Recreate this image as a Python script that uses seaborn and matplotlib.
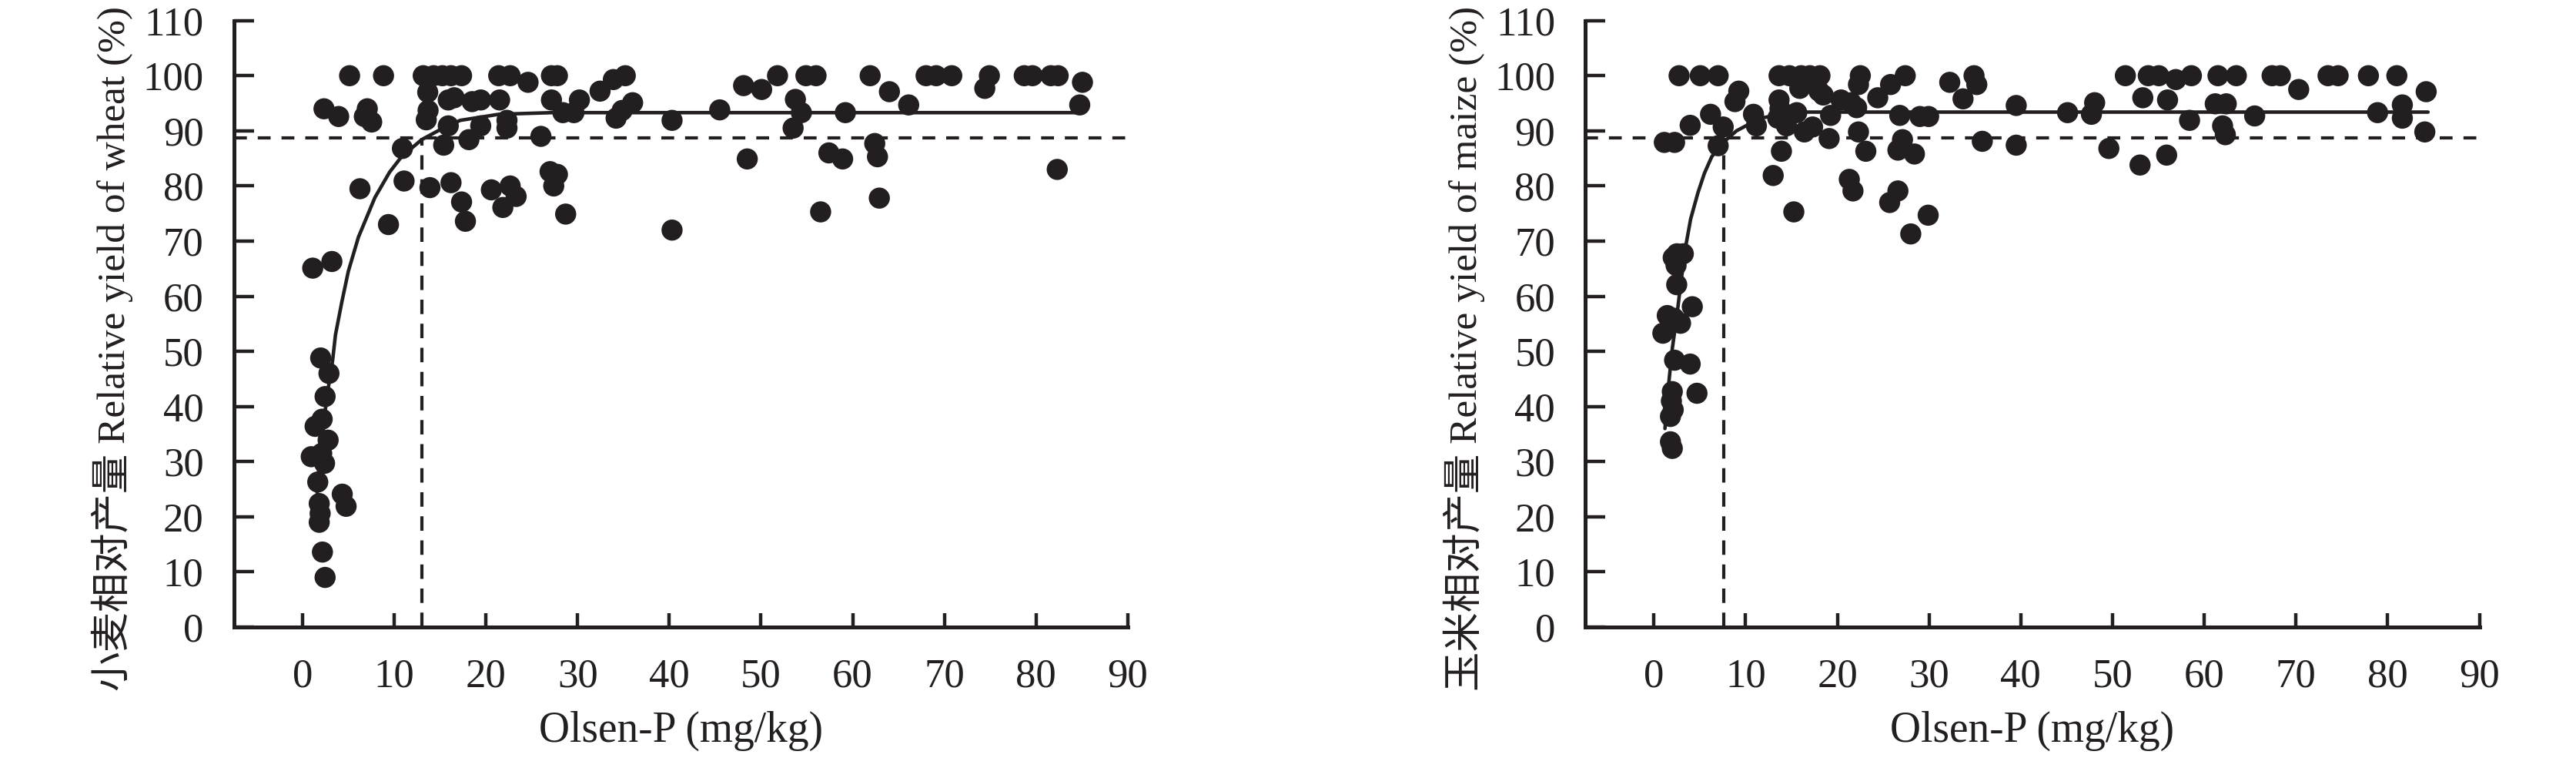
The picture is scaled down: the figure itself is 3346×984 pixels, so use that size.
import matplotlib
matplotlib.use("Agg")
import matplotlib.pyplot as plt
import pandas as pd
import seaborn as sns

# ---------------- data ----------------
wheat_p = [0.96, 1.12, 1.38, 1.67, 1.83, 1.93, 1.83, 1.99, 2.15, 2.18, 2.41, 2.47, 2.47, 2.8, 2.89, 3.21, 4.34, 4.76, 2.1,
           2.35, 3.95, 5.14, 6.27, 6.75, 7.07, 7.55, 8.84, 9.38, 10.9, 11.08,
           13.17, 14.3, 15.26, 16.2, 17.35, 13.66, 13.7, 13.5, 13.9, 15.4, 15.9, 16.55, 15.9, 16.2, 17.35, 17.77, 18.15, 18.5, 19.44, 19.44,
           20.6, 21.4, 21.5, 21.85, 22.3, 22.3, 22.65, 22.65, 23.3, 24.6, 26.0, 27.0, 27.15, 27.15, 27.4, 27.8, 27.8, 28.4, 28.7, 29.6, 30.2,
           32.45, 33.9, 35.2, 34.2, 34.86, 36.0, 40.3, 40.3,
           45.5, 48.1, 48.5, 50.07, 51.8, 53.5, 53.75, 54.4, 54.9, 56.0, 56.5, 57.4, 58.9, 59.2, 61.9, 62.4, 62.7, 62.9, 64.0, 66.1,
           68.0, 69.1, 70.8, 74.4, 74.9, 78.7, 79.6, 81.6, 82.4, 82.3, 84.75, 85.05]
wheat_yield = [30.9, 65.1, 36.4, 26.3, 22.4, 20.6, 19.0, 48.8, 37.7, 13.6, 29.7, 41.8, 9.0, 33.9, 46.0, 66.3, 24.1, 21.9, 31.5,
               94.0, 92.6, 100, 79.5, 92.6, 94.0, 91.6, 100, 73.0, 86.8, 80.9,
               100, 100, 100, 100, 100, 97.0, 93.7, 92.0, 79.7, 87.4, 95.6, 96.0, 90.9, 80.6, 77.1, 73.6, 88.4, 95.3, 95.6, 90.9,
               79.3, 100, 95.6, 76.1, 91.9, 90.5, 100, 80.0, 78.1, 98.8, 89.0, 82.6, 100, 95.6, 80.0, 100, 82.1, 93.3, 74.9, 93.3, 95.6,
               97.2, 99.3, 100, 92.3, 93.7, 95.1, 91.9, 72.0,
               93.8, 98.2, 84.9, 97.5, 100, 90.5, 95.7, 93.3, 100, 100, 75.3, 86.0, 84.9, 93.3, 100, 87.7, 85.3, 77.8, 97.1, 94.7,
               100, 100, 100, 97.7, 100, 100, 100, 100, 100, 83.0, 94.7, 98.8]

maize_p = [0.97, 1.45, 1.8, 1.8, 2.0, 2.0, 2.1, 2.1, 2.25, 2.41, 2.48, 2.51, 2.9, 3.2, 3.95, 4.18, 4.69, 1.9, 2.2,
           1.13, 2.25, 2.74, 5.05, 7.0, 3.95, 6.17, 7.55, 7.0, 9.25, 8.83, 10.85, 11.17,
           13.64, 14.77, 16.05, 17.0, 18.1, 15.9, 18.0, 18.45, 13.64, 13.74, 14.1, 13.5, 14.45, 15.57, 16.4, 17.3, 19.26, 19.1, 20.4, 21.5,
           22.5, 22.3, 22.1, 22.3, 23.1, 24.4, 25.8, 27.4, 26.8, 27.1, 26.6, 28.4, 29.0, 29.95, 13.9, 13.0, 21.3, 21.7, 26.6, 25.7, 29.9, 28.0, 15.25,
           32.25, 34.9, 35.2, 33.7, 35.8, 39.5, 39.5,
           45.1, 48.05, 47.7, 49.6, 51.4, 53.9, 55.05, 56.9, 58.6, 53.3, 56.0, 53.0, 55.9, 58.4, 61.5, 63.5, 61.2, 62.4, 62.0, 62.3,
           65.5, 67.4, 68.3, 70.3, 73.5, 74.6, 77.9, 81.0, 84.2, 78.9, 81.6, 81.6, 84.05]
maize_yield = [53.3, 56.5, 38.2, 33.6, 32.4, 42.7, 39.4, 67.0, 48.4, 65.6, 62.1, 67.7, 55.1, 67.7, 47.7, 58.1, 42.4, 41.0, 56.0,
               87.9, 87.9, 100, 100, 100, 91.0, 93.0, 90.7, 87.3, 97.2, 95.3, 93.0, 90.9,
               100, 100, 100, 100, 100, 97.7, 97.2, 96.5, 95.6, 94.0, 92.8, 92.3, 90.9, 93.3, 89.8, 90.7, 92.8, 88.6, 95.6, 95.1,
               100, 98.4, 94.2, 89.8, 86.3, 96.0, 98.4, 100, 92.8, 88.4, 86.5, 85.8, 92.6, 92.6, 86.3, 81.9, 81.2, 79.1, 79.1, 77.0, 74.7, 71.3, 75.3,
               98.8, 100, 98.4, 95.8, 88.1, 94.6, 87.4,
               93.3, 95.1, 93.0, 86.8, 100, 100, 100, 99.3, 100, 96.0, 95.6, 83.8, 85.6, 91.9, 100, 100, 94.9, 94.9, 90.9, 89.3,
               92.7, 100, 100, 97.5, 100, 100, 100, 100, 97.1, 93.3, 94.7, 92.3, 89.8]

# fitted response curves
wheat_curve_p = [1.6, 1.9, 2.4, 2.9, 3.3, 3.6, 4.3, 5.0, 6.1, 7.9, 9.5, 10.8, 13.0, 15.0, 17.2, 21.4, 27.2, 84.6]
wheat_curve_yield = [24.4, 31.8, 38.3, 44.3, 48.5, 53.0, 59.0, 64.5, 70.7, 77.9, 82.5, 85.3, 88.4, 90.2, 91.9, 93.0, 93.3, 93.3]
maize_curve_p = [1.2, 1.6, 2.0, 2.5, 2.9, 3.4, 4.0, 4.8, 5.5, 6.3, 7.4, 9.0, 11.6, 14.0, 16.7, 84.4]
maize_curve_yield = [36.0, 44.0, 50.5, 56.5, 62.0, 68.5, 74.0, 78.8, 82.3, 85.3, 87.7, 90.0, 92.3, 93.0, 93.4, 93.4]

threshold_yield = 88.7
wheat_critical_p = 13.0
maize_critical_p = 7.6

x_ticks = [0, 10, 20, 30, 40, 50, 60, 70, 80, 90]
y_ticks = [0, 10, 20, 30, 40, 50, 60, 70, 80, 90, 100, 110]
x_label = "Olsen-P (mg/kg)"
wheat_label = "小麦相对产量 Relative yield of wheat (%)"
maize_label = "玉米相对产量 Relative yield of maize (%)"

# ---------------- style ----------------
sns.set_theme(style="ticks")
plt.rcParams["font.family"] = ["Liberation Serif", "Noto Sans CJK SC"]
INK = "#231f20"
FS = 38

W, H = 3346, 984
fig = plt.figure(figsize=(W / 100, H / 100), dpi=100)
ax_bottom = 170 / H
ax_height = 787.3 / H
ax_width = 1161.5 / W
ax1 = fig.add_axes([303.5 / W, ax_bottom, ax_width, ax_height])
ax2 = fig.add_axes([2059.0 / W, ax_bottom, ax_width, ax_height])


def draw(ax, px, py, cx, cy, crit, ylab):
    df = pd.DataFrame({"p": px, "y": py})
    cdf = pd.DataFrame({"p": cx, "y": cy})
    sns.scatterplot(data=df, x="p", y="y", ax=ax, s=390, color=INK,
                    edgecolor="none", linewidth=0, zorder=3)
    sns.lineplot(data=cdf, x="p", y="y", ax=ax, sort=False, estimator=None,
                 color=INK, lw=3.3, zorder=4)
    ax.axhline(threshold_yield, color=INK, lw=3.0, ls=(0, (4.0, 3.4)), zorder=2)
    ax.vlines(crit, 0, threshold_yield, color=INK, lw=3.0,
              linestyles=[(0, (4.5, 3.0))], zorder=2)
    ax.set_xlim(-7.5, 90)
    ax.set_ylim(0, 110)
    ax.set_xticks(x_ticks)
    ax.set_yticks(y_ticks)
    ax.set_xticklabels([str(v) for v in x_ticks])
    ax.set_yticklabels([str(v) for v in y_ticks])
    sns.despine(ax=ax)
    for s in ("left", "bottom"):
        ax.spines[s].set_linewidth(3.6)
        ax.spines[s].set_color(INK)
    ax.tick_params(axis="y", direction="in", length=18.5, width=3.2,
                   color=INK, labelsize=FS, pad=28, labelcolor=INK)
    ax.tick_params(axis="x", direction="in", length=13, width=3.2,
                   color=INK, labelsize=FS, pad=29, labelcolor=INK)
    ax.set_xlabel(x_label, fontsize=40, color=INK)
    ax.xaxis.set_label_coords(0.5, -0.138)
    ax.set_ylabel(ylab, fontsize=37, color=INK)
    ax.yaxis.set_label_coords(-0.112, 0.459)
    ax.set_facecolor("white")


draw(ax1, wheat_p, wheat_yield, wheat_curve_p, wheat_curve_yield, wheat_critical_p, wheat_label)
draw(ax2, maize_p, maize_yield, maize_curve_p, maize_curve_yield, maize_critical_p, maize_label)

fig.savefig("out.png", dpi=100, facecolor="white")
